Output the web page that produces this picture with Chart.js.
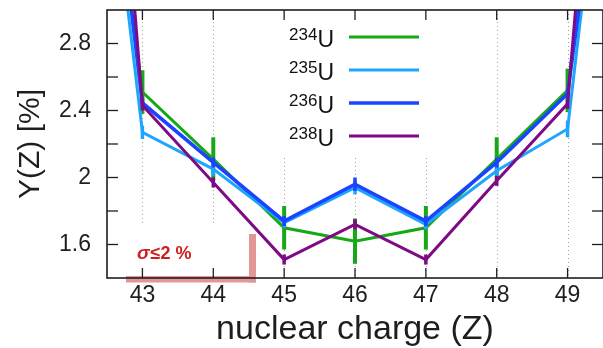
<!DOCTYPE html>
<html><head><meta charset="utf-8">
<script src="https://cdn.jsdelivr.net/npm/chart.js@4/dist/chart.umd.min.js"></script>
<style>html,body{margin:0;padding:0;background:#fff;}#wrap{width:603px;height:348px;position:relative;}</style>
</head><body><div id="wrap"><canvas id="c"></canvas></div>
<script>
// ---- data ----
const zValues = [42, 43, 44, 45, 46, 47, 48, 49, 50];
const xTickValues = [43, 44, 45, 46, 47, 48, 49];
const xTickLabels = ['43', '44', '45', '46', '47', '48', '49'];
const yTickValues = [1.6, 1.8, 2.0, 2.2, 2.4, 2.6, 2.8];
const yTickLabels = ['1.6', '', '2', '', '2.4', '', '2.8'];
const seriesMass = ['234', '235', '236', '238'];
const yield234 = [5.8, 2.51, 2.11, 1.70, 1.62, 1.70, 2.11, 2.52, 5.8];
const yield235 = [5.83, 2.27, 2.05, 1.73, 1.94, 1.72, 2.04, 2.29, 5.9];
const yield236 = [6.0, 2.445, 2.09, 1.74, 1.96, 1.74, 2.09, 2.50, 5.66];
const yield238 = [7.7, 2.43, 1.97, 1.51, 1.72, 1.51, 1.98, 2.44, 7.44];
const err234 = [0, 0.13, 0.13, 0.13, 0.135, 0.13, 0.13, 0.13, 0];
const err235 = [0, 0.04, 0.04, 0.03, 0.04, 0.03, 0.04, 0.05, 0];
const err236 = [0, 0.03, 0.03, 0.03, 0.04, 0.03, 0.03, 0.03, 0];
const err238 = [0, 0.03, 0.03, 0.03, 0.03, 0.03, 0.03, 0.03, 0];
const annotationText = ['σ', '≤2 %'];
const xTitle = 'nuclear charge (Z)';
const yTitle = 'Y(Z) [%]';

const colors = ['#16a816', '#1ea6ff', '#1a44ff', '#7f0a85'];
const widths = [3, 3, 3.6, 3];
const FONT = "'Liberation Sans', Arial, Helvetica, sans-serif";

function mk(i, vals, errs) {
  return {
    label: seriesMass[i] + 'U',
    data: zValues.map((z, k) => ({ x: z, y: vals[k] })),
    errors: errs,
    borderColor: colors[i],
    backgroundColor: colors[i],
    borderWidth: widths[i],
    pointRadius: 0,
    tension: 0,
    order: 4 - i
  };
}

function noPad(s) { s.paddingTop = 0; s.paddingBottom = 0; s.paddingLeft = 0; s.paddingRight = 0; }

const gridMaskPlugin = {
  id: 'gridMask',
  beforeDatasetsDraw(chart) {
    const { ctx, chartArea: a, scales: { x } } = chart;
    ctx.save();
    ctx.strokeStyle = '#a0a0a0';
    ctx.lineWidth = 1;
    ctx.setLineDash([1, 3]);
    xTickValues.forEach(v => {
      const px = Math.round(x.getPixelForValue(v)) + 0.5;
      ctx.beginPath(); ctx.moveTo(px, a.top); ctx.lineTo(px, a.bottom); ctx.stroke();
    });
    ctx.setLineDash([]);
    ctx.fillStyle = '#fff';
    // opaque key box
    ctx.fillRect(266, a.top + 1, 176, 144);
    // opaque annotation box
    ctx.fillRect(a.left + 1, 225, 150, a.bottom - 225 - 1);
    ctx.restore();
  }
};

const errorBarPlugin = {
  id: 'errorBars',
  afterDatasetDraw(chart, args) {
    const ds = chart.data.datasets[args.index];
    const { ctx, chartArea: a, scales: { x, y } } = chart;
    ctx.save();
    ctx.beginPath(); ctx.rect(a.left, a.top, a.right - a.left, a.bottom - a.top); ctx.clip();
    ctx.strokeStyle = ds.borderColor;
    ctx.lineWidth = args.index === 0 ? 4 : 3.5;
    ds.data.forEach((p, k) => {
      const e = ds.errors[k];
      if (!e) return;
      const px = x.getPixelForValue(p.x);
      ctx.beginPath();
      ctx.moveTo(px, y.getPixelForValue(p.y - e));
      ctx.lineTo(px, y.getPixelForValue(p.y + e));
      ctx.stroke();
    });
    ctx.restore();
  }
};

const decorPlugin = {
  id: 'decor',
  afterDraw(chart) {
    const { ctx, chartArea: a, scales: { x, y } } = chart;
    ctx.save();
    // sigma annotation marker (L shape)
    ctx.fillStyle = '#e49595';
    ctx.fillRect(126, a.bottom - 2, 130, 6.5);
    ctx.fillRect(249, 234, 7, a.bottom + 4.5 - 234);
    // frame
    ctx.strokeStyle = '#1e1e1e';
    ctx.lineWidth = 1.6;
    ctx.strokeRect(a.left, a.top, a.right - a.left, a.bottom - a.top);
    ctx.lineWidth = 1.3;
    xTickValues.forEach(v => {
      const px = x.getPixelForValue(v);
      ctx.beginPath(); ctx.moveTo(px, a.bottom); ctx.lineTo(px, a.bottom - 10); ctx.stroke();
      ctx.beginPath(); ctx.moveTo(px, a.top); ctx.lineTo(px, a.top + 10); ctx.stroke();
    });
    yTickValues.forEach(v => {
      const py = y.getPixelForValue(v);
      ctx.beginPath(); ctx.moveTo(a.left, py); ctx.lineTo(a.left + 11, py); ctx.stroke();
      ctx.beginPath(); ctx.moveTo(a.right, py); ctx.lineTo(a.right - 11, py); ctx.stroke();
    });
    // annotation text
    ctx.fillStyle = '#cc1f1f';
    ctx.textBaseline = 'alphabetic';
    ctx.textAlign = 'left';
    ctx.font = 'italic bold 19px ' + FONT;
    ctx.fillText(annotationText[0], 137, 259);
    const w0 = ctx.measureText(annotationText[0]).width;
    ctx.font = 'bold 18px ' + FONT;
    ctx.fillText(annotationText[1], 137 + w0 + 1, 259);
    // key
    chart.data.datasets.forEach((ds, i) => {
      const ly = 37 + i * 33;
      ctx.fillStyle = '#111';
      ctx.textAlign = 'right';
      ctx.font = '23px ' + FONT;
      ctx.fillText('U', 334, ly + 10);
      const wu = ctx.measureText('U').width;
      ctx.font = '17px ' + FONT;
      ctx.fillText(seriesMass[i], 334 - wu, ly + 3);
      ctx.strokeStyle = ds.borderColor;
      ctx.lineWidth = ds.borderWidth;
      ctx.beginPath(); ctx.moveTo(349, ly); ctx.lineTo(419, ly); ctx.stroke();
    });
    ctx.restore();
  }
};

new Chart(document.getElementById('c'), {
  type: 'line',
  data: {
    datasets: [
      mk(0, yield234, err234),
      mk(1, yield235, err235),
      mk(2, yield236, err236),
      mk(3, yield238, err238)
    ]
  },
  options: {
    responsive: true,
    maintainAspectRatio: false,
    animation: false,
    devicePixelRatio: 1,
    layout: { padding: { top: 10, right: 0, left: 0, bottom: 0 } },
    plugins: { legend: { display: false }, tooltip: { enabled: false } },
    scales: {
      x: {
        type: 'linear', min: 42.5, max: 49.5,
        afterBuildTicks: s => { s.ticks = xTickValues.map(v => ({ value: v })); },
        afterFit: s => { s.height = 70; noPad(s); },
        grid: { display: false, drawTicks: false },
        border: { display: false },
        ticks: {
          padding: 4, maxRotation: 0, autoSkip: false,
          color: '#1e1e1e', font: { family: FONT, size: 23 },
          callback: v => { const k = xTickValues.indexOf(v); return k >= 0 ? xTickLabels[k] : ''; }
        },
        title: {
          display: true, text: xTitle, color: '#1e1e1e',
          font: { family: FONT, size: 34, lineHeight: 1.1 },
          padding: { top: 0, bottom: 0 }
        }
      },
      y: {
        type: 'linear', min: 1.4, max: 3.0,
        afterBuildTicks: s => { s.ticks = yTickValues.map(v => ({ value: v })); },
        afterFit: s => { s.width = 107; noPad(s); },
        grid: { display: false, drawTicks: false },
        border: { display: false },
        ticks: {
          padding: 16, autoSkip: false,
          color: '#1e1e1e', font: { family: FONT, size: 23 },
          callback: v => { const k = yTickValues.findIndex(t => Math.abs(t - v) < 1e-6); return k >= 0 ? yTickLabels[k] : ''; }
        },
        title: {
          display: true, text: yTitle, color: '#1e1e1e',
          font: { family: FONT, size: 30, lineHeight: 1.2 },
          padding: { top: 13, bottom: 0 }
        }
      }
    }
  },
  plugins: [gridMaskPlugin, errorBarPlugin, decorPlugin]
});
</script></body></html>
